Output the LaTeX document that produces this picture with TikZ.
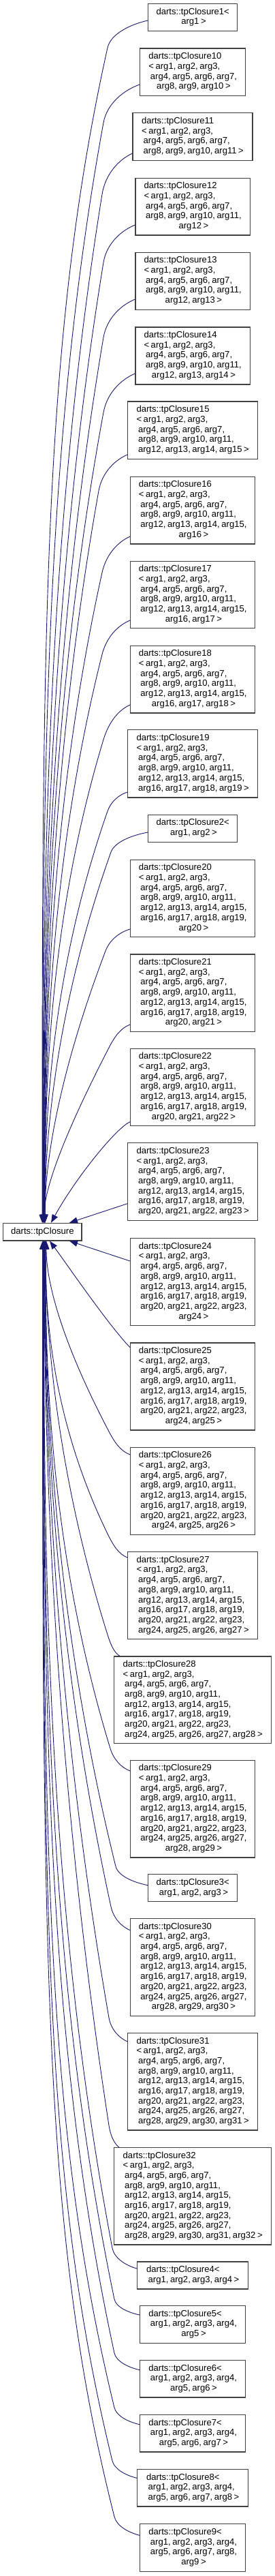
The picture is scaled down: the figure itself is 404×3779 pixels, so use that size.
\documentclass[tikz,border=0pt]{standalone}
\usepackage{fontspec}
\setmainfont{Liberation Sans}[WordSpace=0.7]
\usetikzlibrary{arrows.meta}
\definecolor{edgec}{RGB}{25,25,112}
\definecolor{boxc}{RGB}{64,64,64}
\tikzset{
  cls/.style={draw=boxc, line width=1.1pt, fill=white, inner sep=0pt,
    font=\fontsize{13.1}{14.7}\selectfont},
  inh/.style={draw=edgec, line width=0.9pt, -{Triangle[length=12pt,width=9pt]}}
}
\newcommand\Lbl[2]{\begin{tabular}{@{}l@{}}#1\multicolumn{1}{@{}c@{}}{#2}\end{tabular}}
\newcommand\ArgA{< arg1, arg2, arg3,\\}
\newcommand\ArgB{~arg4, arg5, arg6, arg7,\\}
\newcommand\ArgC{~arg8, arg9, arg10, arg11,\\}
\newcommand\ArgD{~arg12, arg13, arg14, arg15,\\}
\newcommand\ArgE{~arg16, arg17, arg18, arg19,\\}
\newcommand\ArgF{~arg20, arg21, arg22, arg23,\\}
\newcommand\ArgG{~arg24, arg25, arg26, arg27,\\}
% #1 start, #2 sx, #3 sy, #4 mx, #5 my, #6 tx, #7 p
\newcommand\TopEdge[7]{%
  \pgfmathsetmacro\eU{1794.3-#5}%
  \pgfmathsetmacro\eYa{#5+\eU/#7}%
  \pgfmathsetmacro\eYb{#5+\eU*min(0.9,(8*(1-exp(-2.0794/#7))-1-3/#7)/3)}%
  \pgfmathsetmacro\eH{0.5*(#5-#3)}%
  \pgfmathsetmacro\eCa{#2-0.45*(#2-#4)}%
  \pgfmathsetmacro\eCb{#3+0.15*(#5-#3)}%
  \pgfmathsetmacro\eCc{#4+(#4-#6)*#7/\eU*\eH}%
  \pgfmathsetmacro\eCd{#5-\eH}%
  \draw[inh] #1 .. controls (\eCa,\eCb) and (\eCc,\eCd) .. (#4,#5)
     .. controls (#6,\eYa) and (#6,\eYb) .. (base.north -| #6,0);
}
\newcommand\BotEdge[7]{%
  \pgfmathsetmacro\eU{#5-1820}%
  \pgfmathsetmacro\eYa{#5-\eU/#7}%
  \pgfmathsetmacro\eYb{#5-\eU*min(0.9,(8*(1-exp(-2.0794/#7))-1-3/#7)/3)}%
  \pgfmathsetmacro\eH{0.5*(#3-#5)}%
  \pgfmathsetmacro\eCa{#2-0.45*(#2-#4)}%
  \pgfmathsetmacro\eCb{#3-0.15*(#3-#5)}%
  \pgfmathsetmacro\eCc{#4+(#4-#6)*#7/\eU*\eH}%
  \pgfmathsetmacro\eCd{#5+\eH}%
  \draw[inh] #1 .. controls (\eCa,\eCb) and (\eCc,\eCd) .. (#4,#5)
     .. controls (#6,\eYa) and (#6,\eYb) .. (base.south -| #6,0);
}
\begin{document}
\begin{tikzpicture}[x=1pt,y=-1pt]
\useasboundingbox[fill=white] (0,0) rectangle (404,3779);
% base class
\node[cls, minimum width=115.3pt, minimum height=25.7pt] (base) at (62.35,1807.15) {darts::tpClosure};
% derived classes
\node[cls, minimum width=131pt, minimum height=40pt] (n1) at (283.2,25.7) {\Lbl{darts::tpClosure1<\\}{~arg1 >}};
\node[cls, minimum width=155pt, minimum height=69.7pt] (n10) at (283.2,105.85) {\Lbl{darts::tpClosure10\\\ArgA\ArgB}{~arg8, arg9, arg10 >}};
\node[cls, minimum width=176pt, minimum height=69.6pt] (n11) at (283,200.5) {\Lbl{darts::tpClosure11\\\ArgA\ArgB}{~arg8, arg9, arg10, arg11 >}};
\node[cls, minimum width=168.3pt, minimum height=83.7pt] (n12) at (283.15,303.15) {\Lbl{darts::tpClosure12\\\ArgA\ArgB\ArgC}{~arg12 >}};
\node[cls, minimum width=168.3pt, minimum height=84pt] (n13) at (283.15,412.3) {\Lbl{darts::tpClosure13\\\ArgA\ArgB\ArgC}{~arg12, arg13 >}};
\node[cls, minimum width=168.3pt, minimum height=84pt] (n14) at (283.15,522) {\Lbl{darts::tpClosure14\\\ArgA\ArgB\ArgC}{~arg12, arg13, arg14 >}};
\node[cls, minimum width=191pt, minimum height=84.3pt] (n15) at (283.2,631.15) {\Lbl{darts::tpClosure15\\\ArgA\ArgB\ArgC}{~arg12, arg13, arg14, arg15 >}};
\node[cls, minimum width=183pt, minimum height=98.7pt] (n16) at (283.2,748.65) {\Lbl{darts::tpClosure16\\\ArgA\ArgB\ArgC\ArgD}{~arg16 >}};
\node[cls, minimum width=183pt, minimum height=98.4pt] (n17) at (283.2,872.5) {\Lbl{darts::tpClosure17\\\ArgA\ArgB\ArgC\ArgD}{~arg16, arg17 >}};
\node[cls, minimum width=183pt, minimum height=98.7pt] (n18) at (283.2,996.65) {\Lbl{darts::tpClosure18\\\ArgA\ArgB\ArgC\ArgD}{~arg16, arg17, arg18 >}};
\node[cls, minimum width=191pt, minimum height=99.3pt] (n19) at (283.2,1120.35) {\Lbl{darts::tpClosure19\\\ArgA\ArgB\ArgC\ArgD}{~arg16, arg17, arg18, arg19 >}};
\node[cls, minimum width=131pt, minimum height=40pt] (n2) at (283.2,1215.3) {\Lbl{darts::tpClosure2<\\}{~arg1, arg2 >}};
\node[cls, minimum width=183pt, minimum height=113.4pt] (n20) at (283.2,1318) {\Lbl{darts::tpClosure20\\\ArgA\ArgB\ArgC\ArgD\ArgE}{~arg20 >}};
\node[cls, minimum width=183pt, minimum height=113.3pt] (n21) at (283.2,1456.65) {\Lbl{darts::tpClosure21\\\ArgA\ArgB\ArgC\ArgD\ArgE}{~arg20, arg21 >}};
\node[cls, minimum width=183pt, minimum height=113.4pt] (n22) at (283.2,1595) {\Lbl{darts::tpClosure22\\\ArgA\ArgB\ArgC\ArgD\ArgE}{~arg20, arg21, arg22 >}};
\node[cls, minimum width=191pt, minimum height=113.6pt] (n23) at (283.2,1733.5) {\Lbl{darts::tpClosure23\\\ArgA\ArgB\ArgC\ArgD\ArgE}{~arg20, arg21, arg22, arg23 >}};
\node[cls, minimum width=183pt, minimum height=128pt] (n24) at (283.2,1880.7) {\Lbl{darts::tpClosure24\\\ArgA\ArgB\ArgC\ArgD\ArgE\ArgF}{~arg24 >}};
\node[cls, minimum width=183pt, minimum height=128pt] (n25) at (283.2,2034) {\Lbl{darts::tpClosure25\\\ArgA\ArgB\ArgC\ArgD\ArgE\ArgF}{~arg24, arg25 >}};
\node[cls, minimum width=183pt, minimum height=128pt] (n26) at (283.2,2187.3) {\Lbl{darts::tpClosure26\\\ArgA\ArgB\ArgC\ArgD\ArgE\ArgF}{~arg24, arg25, arg26 >}};
\node[cls, minimum width=191pt, minimum height=128pt] (n27) at (283.2,2340.7) {\Lbl{darts::tpClosure27\\\ArgA\ArgB\ArgC\ArgD\ArgE\ArgF}{~arg24, arg25, arg26, arg27 >}};
\node[cls, minimum width=231pt, minimum height=127.7pt] (n28) at (283.2,2493.85) {\Lbl{darts::tpClosure28\\\ArgA\ArgB\ArgC\ArgD\ArgE\ArgF}{~arg24, arg25, arg26, arg27, arg28 >}};
\node[cls, minimum width=183pt, minimum height=142.7pt] (n29) at (283.2,2653.65) {\Lbl{darts::tpClosure29\\\ArgA\ArgB\ArgC\ArgD\ArgE\ArgF\ArgG}{~arg28, arg29 >}};
\node[cls, minimum width=131pt, minimum height=40pt] (n3) at (283.2,2769.7) {\Lbl{darts::tpClosure3<\\}{~arg1, arg2, arg3 >}};
\node[cls, minimum width=183pt, minimum height=142.6pt] (n30) at (283.2,2886) {\Lbl{darts::tpClosure30\\\ArgA\ArgB\ArgC\ArgD\ArgE\ArgF\ArgG}{~arg28, arg29, arg30 >}};
\node[cls, minimum width=191pt, minimum height=142.3pt] (n31) at (283.2,3053.85) {\Lbl{darts::tpClosure31\\\ArgA\ArgB\ArgC\ArgD\ArgE\ArgF\ArgG}{~arg28, arg29, arg30, arg31 >}};
\node[cls, minimum width=231pt, minimum height=142.3pt] (n32) at (283.2,3221.85) {\Lbl{darts::tpClosure32\\\ArgA\ArgB\ArgC\ArgD\ArgE\ArgF\ArgG}{~arg28, arg29, arg30, arg31, arg32 >}};
\node[cls, minimum width=163pt, minimum height=40pt] (n4) at (283.2,3338) {\Lbl{darts::tpClosure4<\\}{~arg1, arg2, arg3, arg4 >}};
\node[cls, minimum width=155pt, minimum height=54.6pt] (n5) at (283.2,3410) {\Lbl{darts::tpClosure5<\\~arg1, arg2, arg3, arg4,\\}{~arg5 >}};
\node[cls, minimum width=155pt, minimum height=54.3pt] (n6) at (283.2,3489.85) {\Lbl{darts::tpClosure6<\\~arg1, arg2, arg3, arg4,\\}{~arg5, arg6 >}};
\node[cls, minimum width=155pt, minimum height=54.3pt] (n7) at (283.2,3569.85) {\Lbl{darts::tpClosure7<\\~arg1, arg2, arg3, arg4,\\}{~arg5, arg6, arg7 >}};
\node[cls, minimum width=163pt, minimum height=54.3pt] (n8) at (283.2,3649.85) {\Lbl{darts::tpClosure8<\\~arg1, arg2, arg3, arg4,\\}{~arg5, arg6, arg7, arg8 >}};
\node[cls, minimum width=155pt, minimum height=69.6pt] (n9) at (283.2,3737.5) {\Lbl{darts::tpClosure9<\\~arg1, arg2, arg3, arg4,\\~arg5, arg6, arg7, arg8,\\}{~arg9 >}};
% inheritance edges, upper group
\TopEdge{(n1.west |- 0,30)}{217.7}{30}{158}{70}{62}{4.0}
\TopEdge{(n10.west |- 0,124)}{205.7}{124}{152}{180}{62.5}{3.3}
\TopEdge{(n11.west |- 0,225)}{195}{225}{150}{285}{63}{2.8}
\TopEdge{(n12.west |- 0,330)}{199}{330}{152}{385}{63.5}{2.6}
\TopEdge{(n13.west |- 0,439)}{199}{439}{152}{495}{64}{2.5}
\TopEdge{(n14.west |- 0,548)}{199}{548}{152}{605}{64.5}{2.5}
\TopEdge{(n15.west |- 0,667)}{187.7}{667}{145}{720}{65}{2.4}
\TopEdge{(n16.west |- 0,787)}{191.7}{787}{150}{840}{65.5}{2.5}
\TopEdge{(n17.west |- 0,910)}{191.7}{910}{150}{960}{66}{2.5}
\TopEdge{(n18.west |- 0,1034)}{191.7}{1034}{152}{1085}{66}{2.5}
\TopEdge{(n19.west |- 0,1162)}{187.7}{1162}{158}{1190}{66}{2.3}
\TopEdge{(n2.west |- 0,1221)}{217.7}{1221}{163}{1250}{66}{2.0}
\TopEdge{(n20.west |- 0,1363)}{191.7}{1363}{155}{1395}{66}{1.7}
\TopEdge{(n21.west |- 0,1503)}{191.7}{1503}{160}{1537}{65}{1.4}
\draw[inh] (n22.west |- 0,1645.7) .. controls (170,1655) and (110,1730) .. (base.north -| 75,0);
\draw[inh] (n23.west |- 0,1765.7) -- (base.north -| 102,0);
% lower group
\draw[inh] (n24.west |- 0,1850) -- (base.south -| 102,0);
\draw[inh] (n25.west |- 0,1976.7) .. controls (160,1945) and (95,1850) .. (base.south -| 73,0);
\BotEdge{(n26.west |- 0,2134)}{191.7}{2134}{160}{2100}{68}{1.6}
\BotEdge{(n27.west |- 0,2285)}{187.7}{2285}{158}{2250}{67}{2.3}
\BotEdge{([xshift=9pt]n28.north west)}{176.7}{2430}{158}{2398}{67}{2.0}
\BotEdge{(n29.west |- 0,2598)}{191.7}{2598}{162}{2565}{67}{2.4}
\BotEdge{(n3.west |- 0,2765.7)}{217.7}{2765.7}{170}{2738}{66.5}{2.2}
\BotEdge{(n30.west |- 0,2831.7)}{191.7}{2831.7}{163}{2797}{66}{2.2}
\BotEdge{(n31.west |- 0,2995)}{187.7}{2995}{160}{2960}{65.5}{2.1}
\BotEdge{([xshift=8pt]n32.north west)}{175.7}{3150.7}{160}{3118}{65}{2.1}
\BotEdge{(n4.west |- 0,3328)}{201.7}{3328}{165}{3298}{64.5}{2.8}
\BotEdge{(n5.west |- 0,3396)}{205.7}{3396}{168}{3373}{64}{3.1}
\BotEdge{(n6.west |- 0,3476.7)}{205.7}{3476.7}{168}{3452}{64}{3.4}
\BotEdge{(n7.west |- 0,3556.7)}{205.7}{3556.7}{168}{3532}{63.5}{4.0}
\BotEdge{(n8.west |- 0,3635.3)}{201.7}{3635.3}{165}{3610}{63}{4.3}
\BotEdge{(n9.west |- 0,3719.3)}{205.7}{3719.3}{168}{3692}{62.5}{4.5}
\end{tikzpicture}
\end{document}
